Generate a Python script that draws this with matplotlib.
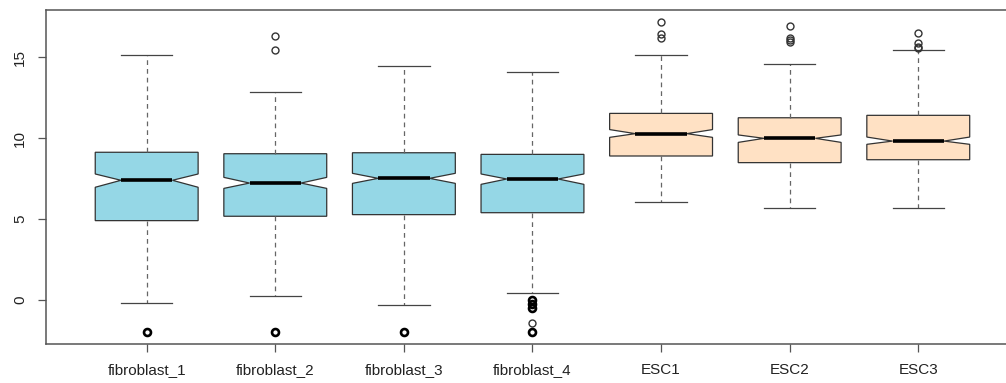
import matplotlib
matplotlib.use("Agg")
import matplotlib.pyplot as plt

# Expression summary per sample
samples = ["fibroblast_1", "fibroblast_2", "fibroblast_3", "fibroblast_4",
           "ESC1", "ESC2", "ESC3"]
q1 = [4.90, 5.17, 5.27, 5.39, 8.89, 8.48, 8.66]
median = [7.39, 7.22, 7.51, 7.47, 10.27, 9.98, 9.81]
q3 = [9.12, 9.03, 9.09, 8.99, 11.52, 11.25, 11.40]
notch_lo = [6.96, 6.89, 7.20, 7.14, 10.04, 9.73, 9.61]
notch_hi = [7.78, 7.57, 7.82, 7.78, 10.52, 10.19, 10.06]
whisk_lo = [-0.17, 0.25, -0.31, 0.45, 6.07, 5.66, 5.66]
whisk_hi = [15.12, 12.84, 14.42, 14.09, 15.12, 14.59, 15.41]
outliers = [
    [-2.0],
    [-2.0, 15.43, 16.32],
    [-2.0],
    [0.02, -0.22, -0.47, -1.44, -2.0],
    [17.15, 16.40, 16.20],
    [16.91, 16.19, 16.05, 15.90],
    [16.46, 15.84, 15.64, 15.53],
]
# outliers shared by many genes (overplotted points look heavier)
stacked_pos = [1, 2, 3, 4, 4, 4, 4]
stacked_val = [-2.0, -2.0, -2.0, -2.0, 0.02, -0.22, -0.47]
fills = ["#95D7E6"] * 4 + ["#FFE1C4"] * 3

plt.rcParams['font.family'] = ['Liberation Sans', 'DejaVu Sans']

stats = []
for i, name in enumerate(samples):
    stats.append(dict(label=name, q1=q1[i], med=median[i], q3=q3[i],
                      cilo=notch_lo[i], cihi=notch_hi[i],
                      whislo=whisk_lo[i], whishi=whisk_hi[i],
                      fliers=outliers[i]))

fig = plt.figure(figsize=(10.06, 3.83), dpi=100)
ax = fig.add_axes([0.0461, 0.1018, 0.9664, 0.872])

bp = ax.bxp(stats, positions=range(1, 8), widths=0.8, capwidths=0.4,
            shownotches=True, patch_artist=True,
            boxprops=dict(edgecolor="#333333", linewidth=0.9),
            medianprops=dict(color="black", linewidth=2.6, solid_capstyle="butt"),
            whiskerprops=dict(color="#666666", linewidth=0.9, linestyle=(0, (3.8, 3.2))),
            capprops=dict(color="#444444", linewidth=0.9),
            flierprops=dict(marker="o", markersize=5, markerfacecolor="none",
                            markeredgecolor="#333333", markeredgewidth=1.0))
for patch, c in zip(bp["boxes"], fills):
    patch.set_facecolor(c)

ax.plot(stacked_pos, stacked_val, linestyle="none", marker="o", markersize=5,
        markerfacecolor="none", markeredgecolor="black", markeredgewidth=1.9)

ax.set_xlim(0.22, 7.78)
ax.set_ylim(-2.716, 17.9)
ax.set_yticks([0, 5, 10, 15])
ax.set_yticklabels(["0", "5", "10", "15"], rotation=90, va="center")
ax.tick_params(axis="both", labelsize=11, length=6, width=0.9,
               color="#555555", labelcolor="#222222", pad=8)
for s in ax.spines.values():
    s.set_color("#555555")
    s.set_linewidth(1.1)

fig.savefig("out.png", dpi=100)
